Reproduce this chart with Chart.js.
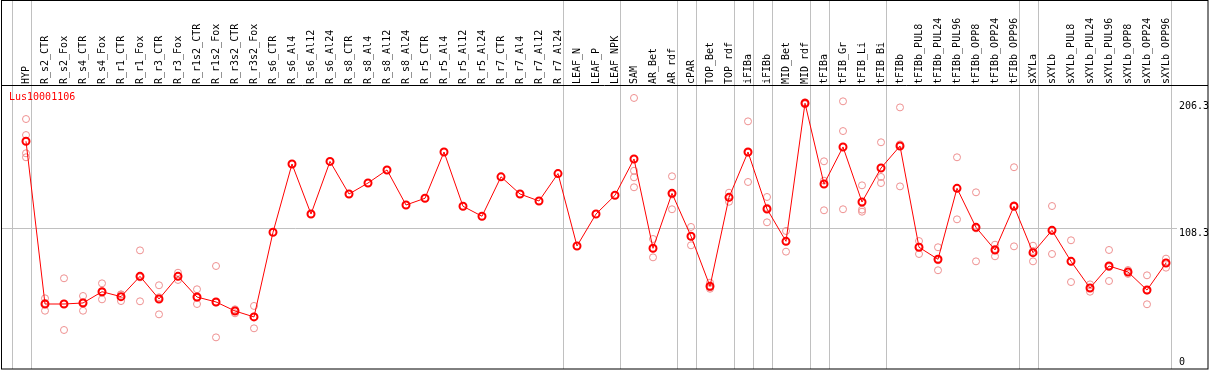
<!DOCTYPE html>
<html>
<head>
<meta charset="utf-8">
<script src="https://cdn.jsdelivr.net/npm/chart.js@4.4.1/dist/chart.umd.min.js"></script>
<style>
    html, body { margin: 0; padding: 0; background: #fff; }
    #wrap { width: 1209px; height: 370px; }
</style>
</head>
<body>
<div id="wrap"><canvas id="geneChart"></canvas></div>
<script>
const geneName = 'Lus10001106';

const categories = [
    'HYP', 'R_s2_CTR', 'R_s2_Fox', 'R_s4_CTR', 'R_s4_Fox', 'R_r1_CTR', 'R_r1_Fox', 'R_r3_CTR', 'R_r3_Fox',
    'R_r1s2_CTR', 'R_r1s2_Fox', 'R_r3s2_CTR', 'R_r3s2_Fox',
    'R_s6_CTR', 'R_s6_Al4', 'R_s6_Al12', 'R_s6_Al24', 'R_s8_CTR', 'R_s8_Al4', 'R_s8_Al12', 'R_s8_Al24',
    'R_r5_CTR', 'R_r5_Al4', 'R_r5_Al12', 'R_r5_Al24', 'R_r7_CTR', 'R_r7_Al4', 'R_r7_Al12', 'R_r7_Al24',
    'LEAF_N', 'LEAF_P', 'LEAF_NPK', 'SAM', 'AR_Bet', 'AR_rdf', 'cPAR', 'TOP_Bet', 'TOP_rdf',
    'iFIBa', 'iFIBb', 'MID_Bet', 'MID_rdf', 'tFIBa', 'tFIB_Gr', 'tFIB_Li', 'tFIB_Bi', 'tFIBb',
    'tFIBb_PUL8', 'tFIBb_PUL24', 'tFIBb_PUL96', 'tFIBb_OPP8', 'tFIBb_OPP24', 'tFIBb_OPP96',
    'sXYLa', 'sXYLb', 'sXYLb_PUL8', 'sXYLb_PUL24', 'sXYLb_PUL96', 'sXYLb_OPP8', 'sXYLb_OPP24', 'sXYLb_OPP96'
];

// mean expression per sample
const meanValues = [
    175.4, 49.5, 49.5, 50.3, 59.0, 55.2, 70.9, 53.4, 70.9,
    54.9, 51.1, 44.1, 39.5,
    105.0, 157.8, 119.1, 159.8, 134.6, 143.1, 153.2, 126.1,
    131.3, 167.1, 125.1, 117.4, 147.9, 134.6, 129.2, 150.4,
    94.4, 119.1, 133.6, 161.7, 92.6, 135.1, 101.9, 63.2, 132.0,
    167.1, 123.0, 98.0, 204.8, 142.3, 171.0, 128.4, 154.7, 171.7,
    93.4, 84.1, 139.0, 108.8, 91.3, 125.1,
    89.2, 106.5, 82.5, 61.9, 78.9, 74.3, 60.3, 81.2
];

// individual replicates (empty where none are shown)
const replicates = [
    [192.6, 180.2, 166.1, 163.0], [53.9, 50.3, 44.3], [69.4, 49.7, 29.4], [55.7, 50.9, 44.3], [65.5, 58.4, 53.1],
    [57.0, 56.8, 51.8], [91.0, 70.1, 51.6], [64.0, 54.7, 41.5], [73.7, 70.9, 68.1],
    [60.9, 54.3, 49.5], [78.9, 50.7, 23.7], [45.4, 44.6, 42.3], [48.0, 39.8, 30.7],
    [], [], [], [], [], [], [], [],
    [], [], [], [], [], [], [], [],
    [], [], [], [208.9, 152.6, 147.5, 139.8], [99.8, 92.4, 85.6], [148.3, 134.2, 122.8], [109.1, 101.7, 94.9],
    [66.0, 62.3, 61.3], [135.6, 131.8, 128.6],
    [190.8, 166.6, 143.9], [132.3, 124.0, 112.7], [106.0, 98.0, 90.0], [205.6, 204.8, 204.0],
    [159.9, 144.9, 122.0], [206.3, 183.3, 122.8], [141.3, 122.5, 120.9], [174.6, 147.8, 143.1], [201.6, 173.0, 140.5],
    [98.2, 93.8, 88.2], [93.4, 83.3, 75.6], [163.0, 139.0, 115.0], [135.9, 108.0, 82.5], [95.4, 92.1, 86.4], [155.3, 125.9, 94.1],
    [94.6, 90.5, 82.5], [125.3, 106.0, 88.2], [98.8, 82.2, 66.5], [64.7, 62.0, 59.0], [91.3, 78.1, 67.3],
    [75.8, 74.3, 72.8], [71.7, 59.9, 49.3], [84.6, 81.4, 77.6]
];

// a grey separator is drawn after each of these samples
const groupEnds = ['HYP', 'R_r7_Al24', 'LEAF_NPK', 'AR_rdf', 'cPAR', 'TOP_rdf', 'iFIBa', 'iFIBb',
    'MID_rdf', 'tFIBa', 'tFIB_Bi', 'tFIBb_OPP96', 'sXYLa', 'sXYLb_OPP96'];

const yTicks = [0, 108.3, 206.3];

const monoFont = '"DejaVu Sans Mono", monospace';

const framePlugin = {
    id: 'frame',
    beforeDatasetsDraw(chart) {
        const { ctx, chartArea, scales } = chart;
        const x = scales.x;
        ctx.save();
        ctx.strokeStyle = '#c0c0c0';
        ctx.lineWidth = 1;
        const seps = [-1].concat(groupEnds.map(n => categories.indexOf(n)));
        seps.forEach(i => {
            const px = Math.round(x.getPixelForValue(i + 0.25)) + 0.5;
            ctx.beginPath();
            ctx.moveTo(px, 0);
            ctx.lineTo(px, chartArea.bottom + 1);
            ctx.stroke();
        });
        ctx.restore();
    },
    afterDraw(chart) {
        const { ctx, chartArea, scales, width } = chart;
        const y = scales.y;
        ctx.save();
        // outer frame and header line
        ctx.strokeStyle = '#000';
        ctx.lineWidth = 1;
        ctx.strokeRect(1.5, 0.5, width - 2.5, chartArea.bottom + 0.5);
        ctx.beginPath();
        ctx.moveTo(1, chartArea.top - 0.5);
        ctx.lineTo(width - 1, chartArea.top - 0.5);
        ctx.stroke();

        // right axis labels
        ctx.fillStyle = '#000';
        ctx.font = '10px ' + monoFont;
        ctx.textAlign = 'left';
        ctx.textBaseline = 'middle';
        yTicks.forEach(v => {
            let py = y.getPixelForValue(v) + 5;
            py = Math.min(py, chartArea.bottom - 6);
            ctx.fillText(String(v), chartArea.right + 2, py);
        });

        // gene name
        ctx.fillStyle = '#ff0000';
        ctx.font = '10px ' + monoFont;
        ctx.fillText(geneName, chartArea.left + 7, chartArea.top + 11);
        ctx.restore();
    }
};

const ctx = document.getElementById('geneChart');
new Chart(ctx, {
    type: 'line',
    data: {
        datasets: [
            {
                label: 'mean',
                data: meanValues.map((v, i) => ({ x: i, y: v })),
                borderColor: '#ff0000',
                borderWidth: 1,
                pointRadius: 3.5,
                pointBorderWidth: 2,
                pointBorderColor: '#ff0000',
                pointBackgroundColor: 'rgba(0,0,0,0)',
                tension: 0
            },
            {
                label: 'replicates',
                data: replicates.flatMap((reps, i) => reps.map(v => ({ x: i, y: v }))),
                showLine: false,
                pointRadius: 3.5,
                pointBorderWidth: 1,
                pointBorderColor: 'rgb(238, 144, 144)',
                pointBackgroundColor: 'rgba(0,0,0,0)'
            }
        ]
    },
    options: {
        animation: false,
        responsive: true,
        maintainAspectRatio: false,
        layout: { autoPadding: false, padding: { top: 1, left: 2, right: 1, bottom: 2 } },
        plugins: {
            legend: { display: false },
            tooltip: { enabled: false }
        },
        scales: {
            x: {
                type: 'linear',
                position: 'top',
                min: -24 / 19,
                max: 1151 / 19,
                afterBuildTicks: scale => {
                    scale.ticks = categories.map((c, i) => ({ value: i }));
                },
                afterFit: scale => {
                    scale.height = 85;
                    scale.paddingLeft = 0;
                    scale.paddingRight = 0;
                },
                ticks: {
                    autoSkip: false,
                    minRotation: 90,
                    maxRotation: 90,
                    padding: 2,
                    labelOffset: 12,
                    color: '#000',
                    font: { family: monoFont, size: 10 },
                    callback: v => categories[v]
                },
                grid: { display: false, drawTicks: false },
                border: { display: false }
            },
            y: {
                position: 'right',
                min: 0,
                max: 218.15,
                afterBuildTicks: scale => {
                    scale.ticks = yTicks.map(v => ({ value: v }));
                },
                afterFit: scale => {
                    scale.width = 31;
                    scale.paddingTop = 0;
                    scale.paddingBottom = 0;
                },
                ticks: { display: false },
                grid: {
                    drawTicks: false,
                    color: c => (c.tick && c.tick.value === 108.3 ? '#c0c0c0' : 'rgba(0,0,0,0)')
                },
                border: { display: false }
            }
        }
    },
    plugins: [framePlugin]
});
</script>
</body>
</html>
